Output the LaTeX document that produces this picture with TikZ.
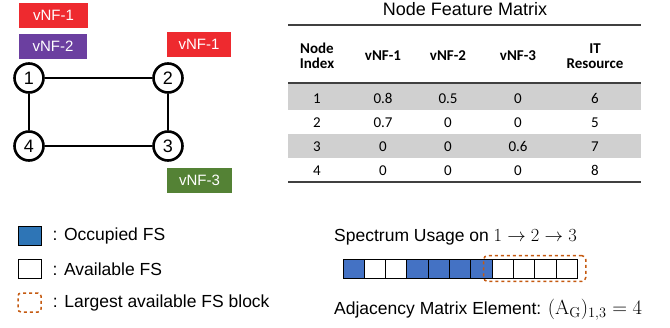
\documentclass[tikz,border=0pt]{standalone}
\usepackage{fix-cm}
\usepackage[no-math]{fontspec}
\setmainfont{Liberation Sans}
\newfontfamily\tabfont{Carlito}
\usetikzlibrary{positioning,fit}
\definecolor{vnfred}{HTML}{EE2A2F}
\definecolor{vnfpurple}{HTML}{6B3FA0}
\definecolor{vnfgreen}{HTML}{548235}
\definecolor{fsblue}{HTML}{4472C4}
\definecolor{legblue}{HTML}{2E75B6}
\definecolor{blockorange}{HTML}{C55A11}
\definecolor{rowgray}{HTML}{D0D0D0}
\newcommand{\fsize}[1]{\fontsize{#1}{#1}\selectfont}
\newcommand{\bigmath}[2][19]{{\fsize{#1}$#2$}}
\tikzset{
  nd/.style={draw,circle,line width=2.6pt,minimum size=29pt,inner sep=0pt,font=\fsize{18}},
  edge/.style={line width=2.3pt},
  vnfbox/.style={text=white,minimum height=25pt,inner sep=0pt,font=\fsize{15}},
  cell/.style={font=\tabfont\fsize{15},inner sep=0pt,align=center},
  head/.style={cell,font=\tabfont\bfseries\fsize{15}},
  slot/.style={draw,line width=0.9pt,minimum width=21.3pt,minimum height=19pt,inner sep=0pt},
  legbox/.style={draw,line width=1pt,minimum width=23pt,minimum height=19pt,inner sep=0pt},
  txt/.style={font=\fsize{17.5},inner sep=1pt}
}
\begin{document}
\begin{tikzpicture}[x=1pt,y=-1pt]
  \useasboundingbox (0,0) rectangle (670,327);
  % topology
  \node[nd] (n1) at (29,78) {1};
  \node[nd] (n2) at (168,78) {2};
  \node[nd] (n3) at (168,146) {3};
  \node[nd] (n4) at (29,146) {4};
  \draw[edge] (n1) -- (n2) -- (n3) -- (n4) -- (n1);
  \node[vnfbox,fill=vnfred,minimum width=69pt] (f11) at (53.5,15.5) {vNF-1};
  \node[vnfbox,fill=vnfpurple,minimum width=68pt] (f12) at (53,46.5) {vNF-2};
  \node[vnfbox,fill=vnfred,minimum width=64pt] (f21) at (199,44.5) {vNF-1};
  \node[vnfbox,fill=vnfgreen,minimum width=65pt] (f33) at (199.5,180) {vNF-3};
  % feature matrix
  \node[font=\fsize{18}] (title) at (465,9) {Node Feature Matrix};
  \fill[rowgray] (288,84) rectangle (641,110);
  \fill[rowgray] (288,134) rectangle (641,158);
  \draw[line width=1.3pt,black!75] (288,25) -- (641,25);
  \draw[line width=1.6pt,black!75] (288,83) -- (641,83);
  \draw[line width=1.3pt,black!75] (288,182) -- (641,182);
  \node[head] (h0) at (317,56) {Node\\Index};
  \node[head] (h1) at (383,56) {vNF-1};
  \node[head] (h2) at (448,56) {vNF-2};
  \node[head] (h3) at (518,56) {vNF-3};
  \node[head] (h4) at (595,56) {IT\\Resource};
  \foreach \a/\b/\c/\d [count=\i] in {0.8/0.5/0/6, 0.7/0/0/5, 0/0/0.6/7, 0/0/0/8} {
    \node[cell] (r\i-0) at (317,74+24.2*\i) {\i};
    \node[cell] (r\i-1) at (383,74+24.2*\i) {\a};
    \node[cell] (r\i-2) at (448,74+24.2*\i) {\b};
    \node[cell] (r\i-3) at (518,74+24.2*\i) {\c};
    \node[cell] (r\i-4) at (595,74+24.2*\i) {\d};
  }
  % legend
  \node[legbox,fill=legblue] (lb1) at (29.5,235.5) {};
  \node[legbox] (lb2) at (29.5,269) {};
  \node[legbox,draw=blockorange,dashed,line width=1.5pt,rounded corners=3pt] (lb3) at (29.5,302.5) {};
  \node[txt,right=10pt of lb1] (lt1) {: Occupied FS};
  \node[txt,right=10pt of lb2] (lt2) {: Available FS};
  \node[txt,right=10pt of lb3] (lt3) {: Largest available FS block};
  % spectrum on the path
  \node[txt,anchor=west] (spec) at (333,237) {Spectrum Usage on \bigmath[18.5]{1\rightarrow2\rightarrow3}};
  \foreach \col [count=\k] in {fsblue,white,white,fsblue,fsblue,fsblue,fsblue,white,white,white,white}
    \node[slot,fill=\col] (s\k) at (343+21.3*\k-10.65,268.5) {};
  \node[fit=(s8)(s11),draw=blockorange,dashed,line width=1.5pt,rounded corners=4pt,inner xsep=8pt,inner ysep=3pt] (blk) {};
  \node[txt,anchor=west] (adj) at (333,310) {Adjacency Matrix Element: \bigmath[20.5]{(\mathrm{A}_\mathrm{G})_{1,3}=4}};
\end{tikzpicture}
\end{document}
